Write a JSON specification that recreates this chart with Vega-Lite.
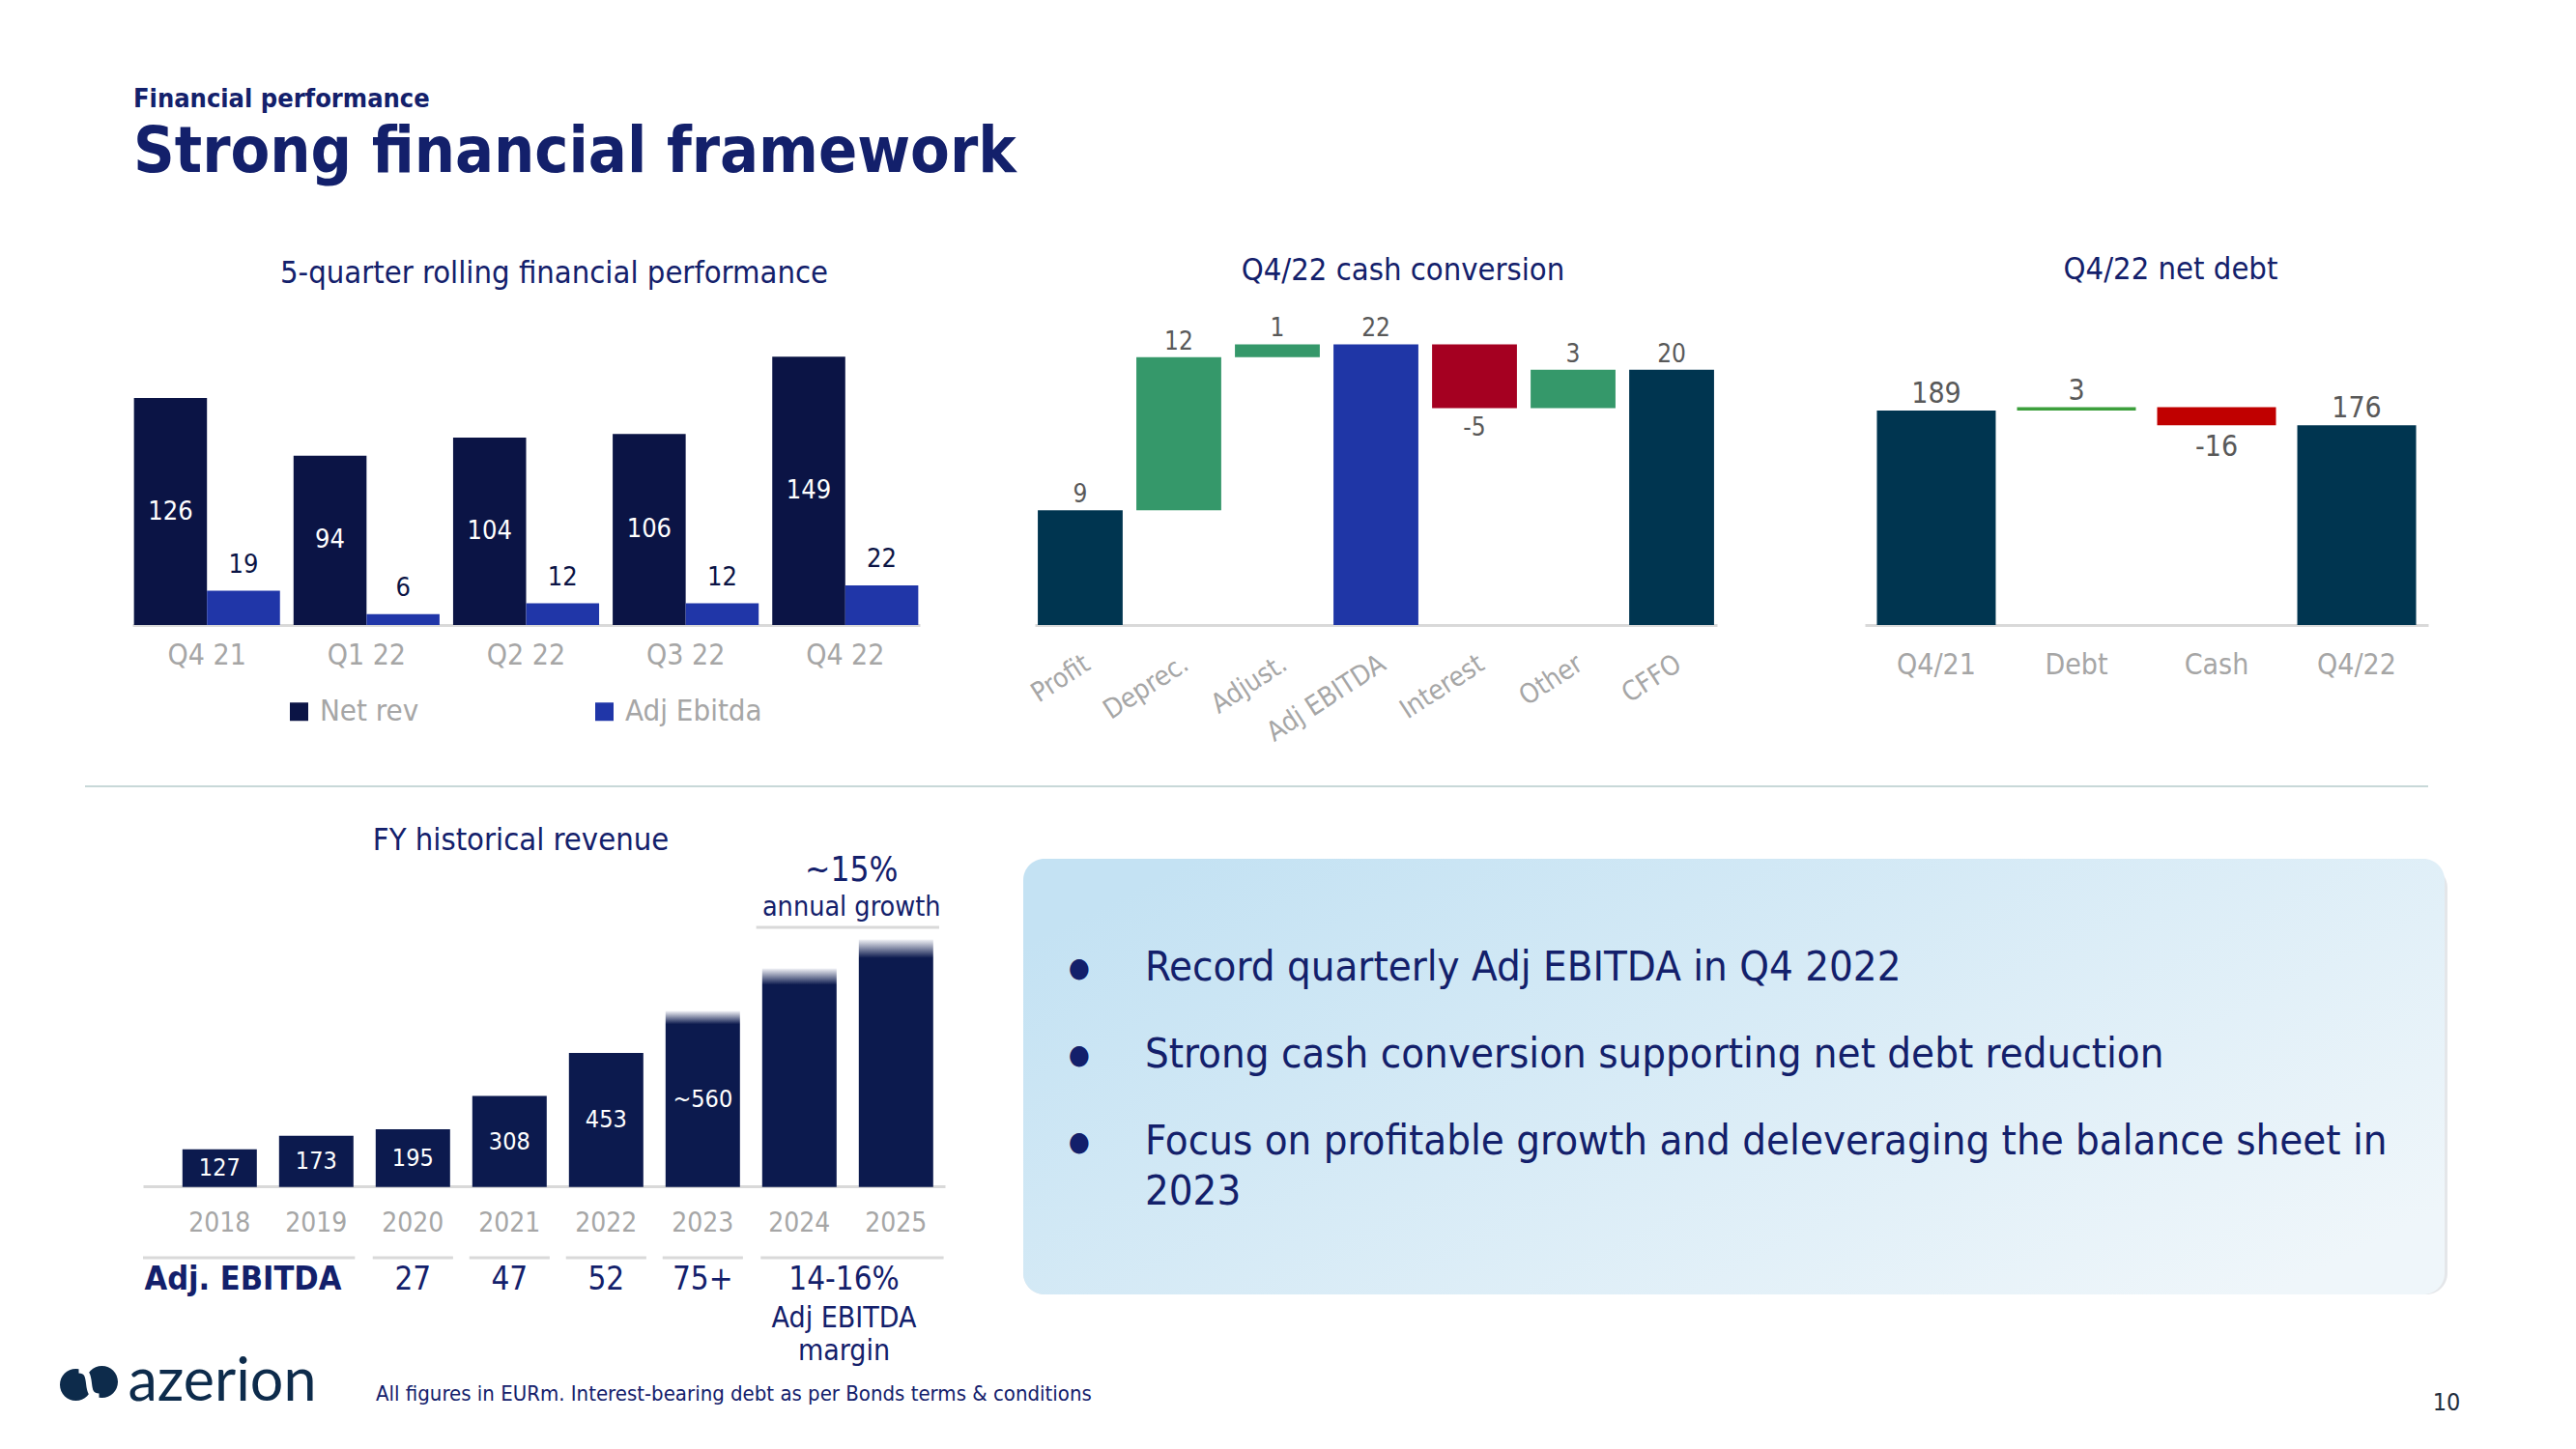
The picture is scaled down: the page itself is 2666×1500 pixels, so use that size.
{
  "$schema": "https://vega.github.io/schema/vega-lite/v6.json",
  "padding": 0,
  "background": "white",
  "bounds": "flush",
  "spacing": 0,
  "resolve": {
    "scale": {"x": "independent", "y": "independent", "color": "independent", "xOffset": "independent"},
    "legend": {"color": "independent"}
  },
  "config": {
    "font": "DejaVu Sans Condensed, Liberation Sans, sans-serif",
    "view": {"stroke": null},
    "axis": {"domainColor": "#D9D9D9", "domainWidth": 3, "ticks": false, "grid": false, "labelColor": "#A6A6A6", "labelFontSize": 30},
    "title": {"fontSize": 32.5, "fontWeight": "normal", "color": "#13206B", "anchor": "middle"}
  },
  "vconcat": [
    {"width": 1, "height": 103, "data": {"values": [{"t": "anchor"}]}, "mark": {"type": "rect", "color": "white"}, "encoding": {}},
    {
      "width": 276,
      "height": 110,
      "data": {"values": [
        {"level": "kicker", "text": "Financial performance"},
        {"level": "headline", "text": "Strong financial framework"}
      ]},
      "layer": [
        {
          "transform": [{"filter": "datum.level === 'kicker'"}],
          "mark": {"type": "text", "align": "left", "baseline": "middle", "fontSize": 27, "fontWeight": "bold", "color": "#13206B"},
          "encoding": {
            "y": {"field": "level", "type": "nominal", "bandPosition": 0, "scale": {"type": "band", "domain": ["kicker", "headline"], "paddingInner": 0, "paddingOuter": 0}, "axis": null},
            "text": {"field": "text"}
          }
        },
        {
          "transform": [{"filter": "datum.level === 'headline'"}],
          "mark": {"type": "text", "align": "left", "baseline": "middle", "fontSize": 66, "fontWeight": "bold", "color": "#13206B"},
          "encoding": {
            "y": {"field": "level", "type": "nominal", "bandPosition": 0, "axis": null},
            "text": {"field": "text"}
          }
        }
      ]
    },
    {"width": 1, "height": 117, "data": {"values": []}, "mark": "point"},
    {
      "hconcat": [
        {"width": 137, "height": 1, "data": {"values": []}, "mark": "point"},
        {
          "width": 815,
          "height": 317,
          "title": {"text": "5-quarter rolling financial performance", "frame": "group", "offset": 5, "baseline": "alphabetic", "dx": 29},
          "data": {"values": [
            {"quarter": "Q4 21", "measure": "Net rev", "value": 126},
            {"quarter": "Q4 21", "measure": "Adj Ebitda", "value": 19},
            {"quarter": "Q1 22", "measure": "Net rev", "value": 94},
            {"quarter": "Q1 22", "measure": "Adj Ebitda", "value": 6},
            {"quarter": "Q2 22", "measure": "Net rev", "value": 104},
            {"quarter": "Q2 22", "measure": "Adj Ebitda", "value": 12},
            {"quarter": "Q3 22", "measure": "Net rev", "value": 106},
            {"quarter": "Q3 22", "measure": "Adj Ebitda", "value": 12},
            {"quarter": "Q4 22", "measure": "Net rev", "value": 149},
            {"quarter": "Q4 22", "measure": "Adj Ebitda", "value": 22}
          ]},
          "encoding": {
            "x": {"field": "quarter", "type": "nominal", "sort": null, "title": null, "scale": {"paddingInner": 0.085, "paddingOuter": 0.01}, "axis": {"labelPadding": 16, "labelAngle": 0}},
            "xOffset": {"field": "measure", "type": "nominal", "sort": ["Net rev", "Adj Ebitda"], "scale": {"paddingInner": 0, "paddingOuter": 0}}
          },
          "resolve": {"scale": {"y": "independent"}},
          "layer": [
            {
              "mark": {"type": "bar"},
              "encoding": {
                "y": {"field": "value", "type": "quantitative", "scale": {"domain": [0, 170]}, "axis": null},
                "color": {
                  "field": "measure", "type": "nominal", "sort": ["Net rev", "Adj Ebitda"],
                  "scale": {"domain": ["Net rev", "Adj Ebitda"], "range": ["#0B1445", "#2036A8"]},
                  "legend": {"orient": "none", "legendX": 157, "legendY": 391, "direction": "horizontal", "title": null, "symbolType": "square", "symbolSize": 360, "symbolStrokeWidth": 0, "labelFontSize": 31, "labelColor": "#A6A6A6", "columnPadding": 176, "labelOffset": 6}
                }
              }
            },
            {
              "transform": [{"filter": "datum.measure === 'Net rev'"}],
              "mark": {"type": "text", "color": "white", "fontSize": 27, "baseline": "middle"},
              "encoding": {
                "y": {"field": "value", "type": "quantitative", "scale": {"domain": [0, 340]}, "axis": null},
                "text": {"field": "value", "type": "quantitative"}
              }
            },
            {
              "transform": [{"filter": "datum.measure === 'Adj Ebitda'"}],
              "mark": {"type": "text", "color": "#0B1445", "fontSize": 27, "baseline": "alphabetic", "dy": -19},
              "encoding": {
                "y": {"field": "value", "type": "quantitative", "scale": {"domain": [0, 170]}, "axis": null},
                "text": {"field": "value", "type": "quantitative"}
              }
            }
          ]
        },
        {"width": 119, "height": 1, "data": {"values": []}, "mark": "point"},
        {
          "width": 706,
          "height": 317,
          "title": {"text": "Q4/22 cash conversion", "frame": "group", "offset": 5, "baseline": "alphabetic", "dx": 28},
          "data": {"values": [
            {"step": "Profit", "start": 0, "end": 9, "kind": "total", "label": "9"},
            {"step": "Deprec.", "start": 9, "end": 21, "kind": "increase", "label": "12"},
            {"step": "Adjust.", "start": 21, "end": 22, "kind": "increase", "label": "1"},
            {"step": "Adj EBITDA", "start": 0, "end": 22, "kind": "subtotal", "label": "22"},
            {"step": "Interest", "start": 22, "end": 17, "kind": "decrease", "label": "-5"},
            {"step": "Other", "start": 17, "end": 20, "kind": "increase", "label": "3"},
            {"step": "CFFO", "start": 0, "end": 20, "kind": "total", "label": "20"}
          ]},
          "encoding": {
            "x": {"field": "step", "type": "nominal", "sort": null, "title": null, "scale": {"paddingInner": 0.139, "paddingOuter": 0.03}, "axis": {"labelAngle": -33, "labelPadding": 26, "labelFontSize": 28}}
          },
          "layer": [
            {
              "mark": {"type": "bar"},
              "encoding": {
                "y": {"field": "start", "type": "quantitative", "scale": {"domain": [0, 24]}, "axis": null},
                "y2": {"field": "end"},
                "color": {"field": "kind", "type": "nominal", "scale": {"domain": ["total", "increase", "subtotal", "decrease"], "range": ["#003550", "#35986A", "#1F36A6", "#A50021"]}, "legend": null}
              }
            },
            {
              "transform": [{"filter": "datum.kind !== 'decrease'"}],
              "mark": {"type": "text", "baseline": "alphabetic", "dy": -8, "fontSize": 26, "color": "#595959"},
              "encoding": {"y": {"field": "end", "type": "quantitative", "scale": {"domain": [0, 24]}, "axis": null}, "text": {"field": "label"}}
            },
            {
              "transform": [{"filter": "datum.kind === 'decrease'"}],
              "mark": {"type": "text", "baseline": "top", "dy": 8, "fontSize": 26, "color": "#595959"},
              "encoding": {"y": {"field": "end", "type": "quantitative", "scale": {"domain": [0, 24]}, "axis": null}, "text": {"field": "label"}}
            }
          ]
        },
        {"width": 153, "height": 1, "data": {"values": []}, "mark": "point"},
        {
          "width": 583,
          "height": 317,
          "title": {"text": "Q4/22 net debt", "frame": "group", "offset": 9, "baseline": "alphabetic", "dx": 25},
          "data": {"values": [
            {"item": "Q4/21", "start": 0, "end": 189, "kind": "total", "label": "189"},
            {"item": "Debt", "start": 189, "end": 192, "kind": "increase", "label": "3"},
            {"item": "Cash", "start": 192, "end": 176, "kind": "decrease", "label": "-16"},
            {"item": "Q4/22", "start": 0, "end": 176, "kind": "total", "label": "176"}
          ]},
          "encoding": {
            "x": {"field": "item", "type": "nominal", "sort": null, "title": null, "scale": {"paddingInner": 0.152, "paddingOuter": 0.086}, "axis": {"labelPadding": 26, "labelAngle": 0}}
          },
          "layer": [
            {
              "mark": {"type": "bar"},
              "encoding": {
                "y": {"field": "start", "type": "quantitative", "scale": {"domain": [0, 270]}, "axis": null},
                "y2": {"field": "end"},
                "color": {"field": "kind", "type": "nominal", "scale": {"domain": ["total", "increase", "decrease"], "range": ["#003550", "#3C9F3C", "#C00000"]}, "legend": null}
              }
            },
            {
              "transform": [{"filter": "datum.kind !== 'decrease'"}],
              "mark": {"type": "text", "baseline": "alphabetic", "dy": -8, "fontSize": 30, "color": "#595959"},
              "encoding": {"y": {"field": "end", "type": "quantitative", "scale": {"domain": [0, 270]}, "axis": null}, "text": {"field": "label"}}
            },
            {
              "transform": [{"filter": "datum.kind === 'decrease'"}],
              "mark": {"type": "text", "baseline": "top", "dy": 8, "fontSize": 30, "color": "#595959"},
              "encoding": {"y": {"field": "end", "type": "quantitative", "scale": {"domain": [0, 270]}, "axis": null}, "text": {"field": "label"}}
            }
          ]
        }
      ],
      "spacing": 0,
      "bounds": "flush",
      "resolve": {"scale": {"x": "independent", "y": "independent", "color": "independent", "xOffset": "independent"}, "legend": {"color": "independent"}}
    },
    {"width": 1, "height": 483, "data": {"values": []}, "mark": "point"},
    {
      "hconcat": [
        {"width": 88, "height": 1, "data": {"values": []}, "mark": "point"},
        {
          "width": 2425,
          "height": 2,
          "data": {"values": [{"from": 0, "to": 1}]},
          "mark": {"type": "rule", "color": "#C8D8D8", "strokeWidth": 2},
          "encoding": {
            "x": {"field": "from", "type": "quantitative", "scale": {"domain": [0, 1]}, "axis": null},
            "x2": {"field": "to"},
            "y": {"datum": 0.5, "type": "quantitative", "scale": {"domain": [0, 1]}, "axis": null}
          }
        }
      ],
      "spacing": 0,
      "bounds": "flush",
      "resolve": {"scale": {"x": "independent", "y": "independent"}}
    },
    {"width": 1, "height": 76, "data": {"values": []}, "mark": "point"},
    {
      "hconcat": [
        {"width": 148, "height": 1, "data": {"values": []}, "mark": "point"},
        {
          "width": 830,
          "height": 461,
          "title": {"text": "FY historical revenue", "frame": "group", "offset": 0, "dy": 29, "baseline": "alphabetic", "dx": -24},
          "data": {"values": [
            {"year": "2018", "revenue": 127, "label": "127", "status": "actual"},
            {"year": "2019", "revenue": 173, "label": "173", "status": "actual"},
            {"year": "2020", "revenue": 195, "label": "195", "status": "actual"},
            {"year": "2021", "revenue": 308, "label": "308", "status": "actual"},
            {"year": "2022", "revenue": 453, "label": "453", "status": "actual"},
            {"year": "2023", "revenue": 595, "label": "~560", "status": "outlook"},
            {"year": "2024", "revenue": 739, "label": "", "status": "outlook"},
            {"year": "2025", "revenue": 837, "label": "", "status": "outlook"}
          ]},
          "resolve": {"scale": {"y": "independent"}},
          "layer": [
            {
              "transform": [{"filter": "datum.status === 'actual'"}],
              "mark": {"type": "bar", "color": "#0C1A4E"},
              "encoding": {
                "x": {"field": "year", "type": "nominal", "title": null, "scale": {"domain": ["2018", "2019", "2020", "2021", "2022", "2023", "2024", "2025"], "paddingInner": 0.23, "paddingOuter": 0.265, "align": 0.77}, "axis": {"offset": -122, "labelPadding": 24, "labelAngle": 0, "labelFontSize": 28}},
                "y": {"field": "revenue", "type": "quantitative", "scale": {"domain": [-396.5, 1110]}, "axis": null}
              }
            },
            {
              "transform": [{"filter": "datum.status === 'outlook'"}],
              "mark": {"type": "bar", "color": {"gradient": "linear", "x1": 0, "y1": 0, "x2": 0, "y2": 1, "stops": [{"offset": 0, "color": "#F2F3F7"}, {"offset": 0.075, "color": "#0C1A4E"}, {"offset": 1, "color": "#0C1A4E"}]}},
              "encoding": {
                "x": {"field": "year", "type": "nominal"},
                "y": {"field": "revenue", "type": "quantitative", "scale": {"domain": [-396.5, 1110]}, "axis": null}
              }
            },
            {
              "transform": [{"filter": "datum.label !== ''"}],
              "mark": {"type": "text", "color": "white", "fontSize": 25, "baseline": "middle"},
              "encoding": {
                "x": {"field": "year", "type": "nominal"},
                "y": {"field": "revenue", "type": "quantitative", "scale": {"domain": [-793, 2220]}, "axis": null},
                "text": {"field": "label"}
              }
            },
            {
              "data": {"values": [{"t": "~15%"}]},
              "mark": {"type": "text", "fontSize": 35, "color": "#13206B", "baseline": "middle"},
              "encoding": {"x": {"datum": "2024", "bandPosition": 1.2}, "y": {"datum": 1071, "type": "quantitative", "scale": {"domain": [-396.5, 1110]}, "axis": null}, "text": {"field": "t"}}
            },
            {
              "data": {"values": [{"t": "annual growth"}]},
              "mark": {"type": "text", "fontSize": 28.5, "color": "#13206B", "baseline": "middle"},
              "encoding": {"x": {"datum": "2024", "bandPosition": 1.2}, "y": {"datum": 947, "type": "quantitative", "scale": {"domain": [-396.5, 1110]}, "axis": null}, "text": {"field": "t"}}
            },
            {
              "data": {"values": [{"t": "span"}]},
              "mark": {"type": "rule", "color": "#D9D9D9", "strokeWidth": 3},
              "encoding": {"x": {"datum": "2024", "bandPosition": -0.08}, "x2": {"datum": "2025", "bandPosition": 1.08}, "y": {"datum": 878, "type": "quantitative", "scale": {"domain": [-396.5, 1110]}, "axis": null}}
            },
            {
              "data": {"values": [{"from": "2018", "to": "2019"}]},
              "mark": {"type": "rule", "color": "#D9D9D9", "strokeWidth": 3},
              "encoding": {
                "x": {"field": "from", "type": "nominal", "bandPosition": -0.53},
                "x2": {"field": "to", "bandPosition": 1.02},
                "y": {"datum": -239.6, "type": "quantitative", "scale": {"domain": [-396.5, 1110]}, "axis": null}
              }
            },
            {
              "data": {"values": [{"from": "2020", "to": "2020"}, {"from": "2021", "to": "2021"}, {"from": "2022", "to": "2022"}, {"from": "2023", "to": "2023"}]},
              "mark": {"type": "rule", "color": "#D9D9D9", "strokeWidth": 3},
              "encoding": {
                "x": {"field": "from", "type": "nominal", "bandPosition": -0.04},
                "x2": {"field": "to", "bandPosition": 1.04},
                "y": {"datum": -239.6, "type": "quantitative", "scale": {"domain": [-396.5, 1110]}, "axis": null}
              }
            },
            {
              "data": {"values": [{"from": "2024", "to": "2025"}]},
              "mark": {"type": "rule", "color": "#D9D9D9", "strokeWidth": 3},
              "encoding": {
                "x": {"field": "from", "type": "nominal", "bandPosition": -0.02},
                "x2": {"field": "to", "bandPosition": 1.14},
                "y": {"datum": -239.6, "type": "quantitative", "scale": {"domain": [-396.5, 1110]}, "axis": null}
              }
            },
            {
              "data": {"values": [{"t": "Adj. EBITDA"}]},
              "mark": {"type": "text", "fontSize": 34, "fontWeight": "bold", "color": "#13206B", "align": "left", "baseline": "middle"},
              "encoding": {"x": {"datum": "2018", "bandPosition": -0.51}, "y": {"datum": -314.8, "type": "quantitative", "scale": {"domain": [-396.5, 1110]}, "axis": null}, "text": {"field": "t"}}
            },
            {
              "data": {"values": [{"year": "2020", "ebitda": "27"}, {"year": "2021", "ebitda": "47"}, {"year": "2022", "ebitda": "52"}, {"year": "2023", "ebitda": "75+"}]},
              "mark": {"type": "text", "fontSize": 33, "color": "#13206B", "baseline": "middle"},
              "encoding": {"x": {"field": "year", "type": "nominal"}, "y": {"datum": -314.8, "type": "quantitative", "scale": {"domain": [-396.5, 1110]}, "axis": null}, "text": {"field": "ebitda"}}
            },
            {
              "data": {"values": [{"t": "14-16%"}]},
              "mark": {"type": "text", "fontSize": 33, "color": "#13206B", "baseline": "middle"},
              "encoding": {"x": {"datum": "2024", "bandPosition": 1.1}, "y": {"datum": -314.8, "type": "quantitative", "scale": {"domain": [-396.5, 1110]}, "axis": null}, "text": {"field": "t"}}
            },
            {
              "data": {"values": [{"t": "Adj EBITDA\nmargin"}]},
              "mark": {"type": "text", "fontSize": 30, "color": "#13206B", "baseline": "top", "lineBreak": "\n", "lineHeight": 34},
              "encoding": {"x": {"datum": "2024", "bandPosition": 1.1}, "y": {"datum": -396.5, "type": "quantitative", "scale": {"domain": [-396.5, 1110]}, "axis": null}, "text": {"field": "t"}}
            }
          ]
        },
        {"width": 81, "height": 1, "data": {"values": []}, "mark": "point"},
        {
          "width": 1471,
          "height": 451,
          "data": {"values": [
            {"item": "b1", "part": "bullet", "text": "●"},
            {"item": "b1", "part": "text", "text": "Record quarterly Adj EBITDA in Q4 2022"},
            {"item": "b2", "part": "bullet", "text": "●"},
            {"item": "b2", "part": "text", "text": "Strong cash conversion supporting net debt reduction"},
            {"item": "b3", "part": "bullet", "text": "●"},
            {"item": "b3", "part": "text", "text": "Focus on profitable growth and deleveraging the balance sheet in\n2023"}
          ]},
          "layer": [
            {
              "data": {"values": [{"t": "shadow"}]},
              "mark": {"type": "rect", "color": "#C3C8CE", "opacity": 0.45, "cornerRadius": 22, "xOffset": 3, "yOffset": 8},
              "encoding": {}
            },
            {
              "data": {"values": [{"t": "box"}]},
              "mark": {"type": "rect", "cornerRadius": 22, "color": {"gradient": "linear", "x1": 0, "y1": 0.2, "x2": 1, "y2": 0.8, "stops": [{"offset": 0, "color": "#C4E2F3"}, {"offset": 1, "color": "#EFF6FA"}]}},
              "encoding": {}
            },
            {
              "transform": [{"filter": "datum.part === 'bullet'"}],
              "mark": {"type": "text", "fontSize": 28, "color": "#13206B", "align": "center", "baseline": "alphabetic", "dy": -4},
              "encoding": {
                "x": {"datum": "list", "type": "nominal", "bandPosition": 0.0204, "scale": {"type": "band", "domain": ["list"], "paddingInner": 0, "paddingOuter": 1, "align": 0.0489}, "axis": null},
                "y": {"field": "item", "type": "nominal", "bandPosition": 0, "scale": {"type": "band", "domain": ["b1", "b2", "b3"], "paddingInner": 0, "paddingOuter": 1, "align": 0.698}, "axis": null},
                "text": {"field": "text"}
              }
            },
            {
              "transform": [{"filter": "datum.part === 'text'"}],
              "mark": {"type": "text", "fontSize": 43.4, "color": "#13206B", "align": "left", "baseline": "alphabetic", "lineBreak": "\n", "lineHeight": 52},
              "encoding": {
                "x": {"datum": "list", "type": "nominal", "bandPosition": 0.159, "axis": null},
                "y": {"field": "item", "type": "nominal", "bandPosition": 0, "axis": null},
                "text": {"field": "text"}
              }
            }
          ]
        }
      ],
      "spacing": 0,
      "bounds": "flush",
      "resolve": {"scale": {"x": "independent", "y": "independent"}}
    },
    {"width": 1, "height": 507, "data": {"values": []}, "mark": "point"},
    {
      "hconcat": [
        {"width": 60, "height": 1, "data": {"values": []}, "mark": "point"},
        {
          "width": 64,
          "height": 72,
          "data": {"values": [{"t": "logo"}]},
          "layer": [
            {
              "mark": {"type": "point", "shape": "M-1,0.05 A0.55,0.55 0 1,0 0.1,0.05 A0.55,0.55 0 1,0 -1,0.05 Z M-0.1,-0.05 A0.55,0.55 0 1,0 1,-0.05 A0.55,0.55 0 1,0 -0.1,-0.05 Z", "filled": true, "color": "#0D2B4B", "size": 3600, "opacity": 1},
              "encoding": {}
            },
            {
              "mark": {"type": "point", "shape": "M-0.35,-0.45 C0.25,-0.45 -0.25,0.45 0.35,0.45", "filled": false, "stroke": "white", "strokeWidth": 6, "size": 3600, "opacity": 1},
              "encoding": {}
            }
          ]
        },
        {
          "width": 212,
          "height": 72,
          "data": {"values": [{"t": "azerion"}]},
          "mark": {"type": "text", "font": "Lato", "fontSize": 61, "color": "#0D2B4B", "baseline": "middle", "align": "center"},
          "encoding": {"text": {"field": "t"}}
        },
        {
          "width": 106,
          "height": 74,
          "data": {"values": [{"t": "All figures in EURm. Interest-bearing debt as per Bonds terms & conditions"}]},
          "mark": {"type": "text", "fontSize": 22, "color": "#13206B", "baseline": "top", "align": "left"},
          "encoding": {"text": {"field": "t"}}
        },
        {"width": 2040, "height": 1, "data": {"values": []}, "mark": "point"},
        {
          "width": 100,
          "height": 88,
          "data": {"values": [{"t": "10"}]},
          "mark": {"type": "text", "fontSize": 25, "color": "#1F2D3D", "baseline": "top", "align": "center"},
          "encoding": {"text": {"field": "t"}}
        }
      ],
      "spacing": 0,
      "bounds": "flush"
    }
  ]
}
